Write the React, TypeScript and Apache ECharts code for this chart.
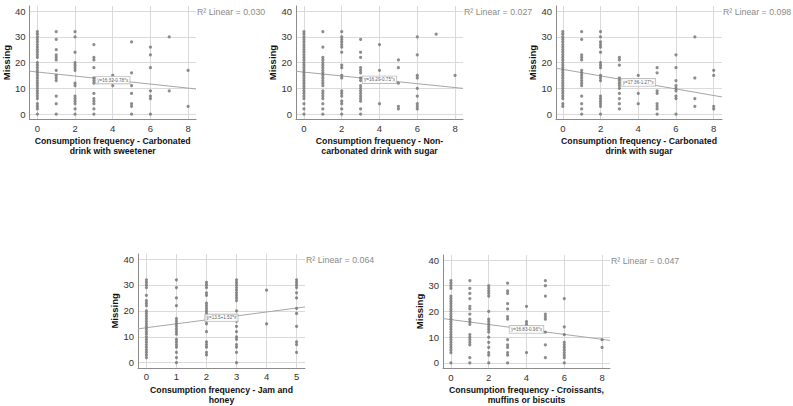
import React, { useEffect, useRef } from "react";
import * as echarts from "echarts";

// Axis ticks
const yTicks = [0, 10, 20, 30, 40];
const xTicksWide = [0, 2, 4, 6, 8];
const xTicksJam = [0, 1, 2, 3, 4, 5];

// "Missing" values, grouped by consumption frequency (array index = frequency)
const sweetenerMissing: number[][] = [
  [0, 2, 3, 4, 6, 7, 8, 9, 10, 11, 12, 13, 14, 15, 16, 17, 18, 19, 20, 22, 23, 24, 25, 26, 27, 28, 29, 30, 31, 32],
  [0, 4, 7, 13, 14, 15, 17, 21, 22, 23, 25, 29, 32],
  [0, 2, 4, 5, 6, 7, 11, 12, 17, 18, 19, 20, 24, 30, 32],
  [0, 2, 4, 5, 6, 8, 12, 13, 14, 18, 21, 22, 27],
  [11, 13, 15],
  [0, 3, 4, 8, 11, 16, 28],
  [0, 6, 7, 9, 18, 23, 26],
  [9, 30],
  [3, 17],
];

const nonCarbSugarMissing: number[][] = [
  [0, 2, 4, 6, 7, 8, 9, 10, 11, 12, 13, 14, 15, 16, 17, 18, 19, 20, 21, 22, 23, 24, 25, 26, 27, 28, 29, 30, 31, 32],
  [0, 2, 4, 6, 7, 8, 9, 11, 12, 13, 14, 15, 16, 17, 18, 19, 20, 21, 22, 26, 32],
  [0, 2, 4, 5, 7, 8, 9, 14, 15, 18, 19, 24, 26, 27, 28, 29, 30, 32],
  [0, 2, 5, 6, 7, 8, 9, 10, 11, 13, 14, 16, 17, 18, 22, 24, 29],
  [4, 17, 27],
  [2, 3, 12, 18, 21],
  [2, 3, 4, 7, 10, 14, 15, 23, 30],
  [31],
  [15],
];

const carbSugarMissing: number[][] = [
  [3, 4, 6, 7, 8, 9, 10, 11, 12, 13, 14, 15, 16, 17, 18, 19, 20, 21, 22, 23, 24, 25, 26, 27, 28, 29, 30, 31, 32],
  [0, 2, 4, 7, 11, 12, 13, 14, 15, 16, 17, 21, 22, 23, 29, 32],
  [0, 3, 4, 5, 6, 7, 13, 14, 15, 18, 19, 20, 24, 26, 27, 28, 30, 32],
  [2, 4, 6, 8, 10, 11, 12, 13, 14, 19, 21, 22],
  [4, 8, 15],
  [0, 2, 3, 4, 8, 9, 16, 18],
  [0, 6, 7, 9, 10, 11, 13, 18, 23],
  [3, 6, 14, 30],
  [2, 3, 15, 17],
];

const jamHoneyMissing: number[][] = [
  [2, 3, 4, 5, 6, 7, 8, 9, 10, 11, 12, 13, 14, 15, 16, 17, 18, 19, 20, 22, 23, 24, 26, 29, 30, 31, 32],
  [0, 2, 4, 6, 7, 8, 9, 11, 12, 13, 14, 15, 16, 17, 22, 25, 29, 32],
  [3, 4, 6, 7, 8, 12, 15, 16, 17, 18, 19, 20, 21, 22, 23, 26, 27, 29, 30, 31],
  [0, 4, 6, 7, 9, 10, 12, 14, 16, 18, 20, 24, 25, 26, 27, 28, 29, 30, 31, 32],
  [15, 28],
  [4, 7, 8, 14, 19, 21, 25, 27, 29, 30, 31, 32],
];

const croissantMissing: number[][] = [
  [0, 4, 5, 6, 7, 8, 9, 10, 11, 12, 13, 14, 15, 16, 17, 18, 19, 20, 21, 22, 23, 24, 25, 26, 29, 30, 31, 32],
  [0, 2, 7, 8, 9, 10, 11, 15, 16, 17, 19, 21, 22, 25, 27, 29, 32],
  [0, 3, 4, 6, 8, 10, 12, 13, 14, 15, 16, 17, 20, 26, 27, 28, 29, 30],
  [0, 3, 4, 6, 7, 9, 17, 18, 21, 23, 27, 28, 31],
  [4, 15, 16, 22],
  [2, 7, 12, 17, 18, 19, 26, 30, 32],
  [0, 2, 3, 4, 5, 6, 7, 8, 11, 14, 25],
  [],
  [6, 9],
];

// Linear fits: [intercept, slope], and R² of each fit
const fitIntercepts = [16.32, 16.29, 17.36, 13.5, 16.83];
const fitSlopes = [-0.78, -0.75, -1.27, 1.52, -0.96];
const fitR2 = ["0.030", "0.027", "0.098", "0.064", "0.047"];

const xTitles = [
  "Consumption frequency - Carbonated\ndrink with sweetener",
  "Consumption frequency - Non-\ncarbonated drink with sugar",
  "Consumption frequency - Carbonated\ndrink with sugar",
  "Consumption frequency - Jam and\nhoney",
  "Consumption frequency - Croissants,\nmuffins or biscuits",
];

const groupsByPanel = [sweetenerMissing, nonCarbSugarMissing, carbSugarMissing, jamHoneyMissing, croissantMissing];
const ticksByPanel = [xTicksWide, xTicksWide, xTicksWide, xTicksJam, xTicksWide];

// Panel placement on the page
const layout = [
  { left: 29, top: 5.9, width: 167, height: 113.3, xMin: -0.42, xMax: 8.42 },
  { left: 296, top: 5.9, width: 167, height: 113.3, xMin: -0.42, xMax: 8.42 },
  { left: 556, top: 5.9, width: 166, height: 113.3, xMin: -0.36, xMax: 8.44 },
  { left: 138, top: 253.9, width: 167, height: 114, xMin: -0.28, xMax: 5.28 },
  { left: 443, top: 254.9, width: 167, height: 113.3, xMin: -0.42, xMax: 8.42 },
];

const FONT = "'Liberation Sans', Arial, sans-serif";

function buildOption() {
  const grid: any[] = [];
  const xAxis: any[] = [];
  const yAxis: any[] = [];
  const series: any[] = [];
  const graphic: any[] = [];

  layout.forEach((g, i) => {
    grid.push({ left: g.left, top: g.top, width: g.width, height: g.height, containLabel: false });
    const ticks = ticksByPanel[i];
    xAxis.push({
      gridIndex: i,
      type: "value",
      min: g.xMin,
      max: g.xMax,
      axisLine: { show: true, onZero: false, lineStyle: { color: "#8c8c8c", width: 1 } },
      axisTick: { show: false, customValues: ticks },
      axisLabel: { customValues: ticks, fontSize: 9.5, color: "#333", margin: 4, fontFamily: FONT },
      splitLine: { show: true, lineStyle: { color: "#dadada", width: 1 } },
      name: xTitles[i],
      nameLocation: "middle",
      nameGap: 17,
      nameTextStyle: {
        fontSize: 8.7,
        fontWeight: "bold",
        color: "#111",
        lineHeight: 10,
        fontFamily: FONT,
        verticalAlign: "top",
      },
    });
    yAxis.push({
      gridIndex: i,
      type: "value",
      min: -2,
      max: 42,
      axisLine: { show: true, onZero: false, lineStyle: { color: "#8c8c8c", width: 1 } },
      axisTick: { show: false, customValues: yTicks },
      axisLabel: { customValues: yTicks, fontSize: 9.5, color: "#333", margin: 4, fontFamily: FONT },
      splitLine: { show: true, lineStyle: { color: "#dadada", width: 1 } },
      name: "Missing",
      nameLocation: "middle",
      nameGap: 13,
      nameTextStyle: { fontSize: 9.5, fontWeight: "bold", color: "#111", fontFamily: FONT },
    });

    const points: number[][] = [];
    groupsByPanel[i].forEach((ys, x) => ys.forEach((y) => points.push([x, y])));
    series.push({
      type: "scatter",
      xAxisIndex: i,
      yAxisIndex: i,
      data: points,
      symbol: "circle",
      symbolSize: 3.2,
      itemStyle: { color: "#707070" },
      silent: true,
      z: 3,
    });

    const a = fitIntercepts[i];
    const b = fitSlopes[i];
    series.push({
      type: "line",
      xAxisIndex: i,
      yAxisIndex: i,
      data: [
        [g.xMin, a + b * g.xMin],
        [g.xMax, a + b * g.xMax],
      ],
      symbol: "none",
      lineStyle: { color: "#a6a6a6", width: 1 },
      silent: true,
      z: 2,
    });

    const mid = ticks[ticks.length - 1] / 2;
    const sign = b < 0 ? "-" : "+";
    series.push({
      type: "scatter",
      xAxisIndex: i,
      yAxisIndex: i,
      data: [[mid, a + b * mid]],
      symbolSize: 0,
      silent: true,
      z: 5,
      label: {
        show: true,
        position: "inside",
        formatter: `y=${a}${sign}${Math.abs(b).toFixed(2)}*x`,
        fontSize: 4.6,
        color: "#333",
        fontFamily: FONT,
        backgroundColor: "#ffffff",
        borderColor: "#9a9a9a",
        borderWidth: 0.6,
        padding: [1, 1.5],
      },
    });

    graphic.push({
      type: "text",
      left: g.left + g.width + 1,
      top: g.top + 1.5,
      style: {
        text: `R² Linear = ${fitR2[i]}`,
        fontSize: 8.8,
        fill: "#8a8a8a",
        fontFamily: FONT,
      },
      silent: true,
    });
  });

  return {
    animation: false,
    backgroundColor: "#ffffff",
    grid,
    xAxis,
    yAxis,
    series,
    graphic,
  };
}

export default function App() {
  const ref = useRef<HTMLDivElement>(null);
  useEffect(() => {
    if (!ref.current) return;
    const chart = echarts.init(ref.current, undefined, { renderer: "svg" });
    chart.setOption(buildOption() as any);
    return () => chart.dispose();
  }, []);
  return (
    <div
      ref={ref}
      style={{ position: "absolute", left: 0, top: 0, width: 793, height: 406, background: "#fff" }}
    />
  );
}
